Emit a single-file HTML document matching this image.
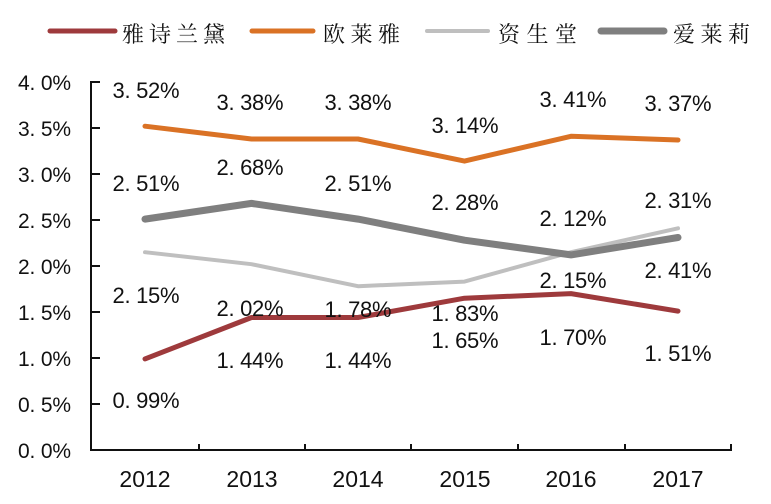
<!DOCTYPE html>
<html><head><meta charset="utf-8"><style>
html,body{margin:0;padding:0;background:#fff;}
svg{display:block;}
text{font-family:"Liberation Sans","Noto Sans CJK SC",sans-serif;fill:#111;}
.cj{font-family:"Noto Serif CJK SC","Noto Sans CJK SC",serif;font-size:22px;}
.yl{font-size:21px;}
.xl{font-size:23px;}
.dl{font-size:22px;}
</style></head><body>
<svg width="771" height="504" viewBox="0 0 771 504" xmlns="http://www.w3.org/2000/svg">
<rect width="771" height="504" fill="#fff"/>
<!-- legend -->
<g stroke-linecap="round">
<line x1="50" y1="31" x2="115" y2="31" stroke="#9E3A3C" stroke-width="5"/>
<line x1="252" y1="31" x2="313" y2="31" stroke="#DA7225" stroke-width="5"/>
<line x1="427" y1="31" x2="488" y2="31" stroke="#BFBFBF" stroke-width="4"/>
<line x1="601" y1="31" x2="664" y2="31" stroke="#7F7F7F" stroke-width="7"/>
</g>
<text class="cj" x="122" y="42" textLength="103" lengthAdjust="spacing">雅诗兰黛</text>
<text class="cj" x="323" y="42" textLength="77" lengthAdjust="spacing">欧莱雅</text>
<text class="cj" x="498" y="42" textLength="79" lengthAdjust="spacing">资生堂</text>
<text class="cj" x="673" y="42" textLength="77" lengthAdjust="spacing">爱莱莉</text>
<!-- axes -->
<g stroke="#111" stroke-width="2" fill="none">
<line x1="91" y1="81" x2="91" y2="451"/>
<line x1="90" y1="450" x2="731" y2="450"/>
<line x1="91" y1="82" x2="100" y2="82"/>
<line x1="91" y1="128" x2="100" y2="128"/>
<line x1="91" y1="174" x2="100" y2="174"/>
<line x1="91" y1="220" x2="100" y2="220"/>
<line x1="91" y1="266" x2="100" y2="266"/>
<line x1="91" y1="312" x2="100" y2="312"/>
<line x1="91" y1="358" x2="100" y2="358"/>
<line x1="91" y1="404" x2="100" y2="404"/>
<line x1="199" y1="444" x2="199" y2="450"/>
<line x1="305" y1="444" x2="305" y2="450"/>
<line x1="411" y1="444" x2="411" y2="450"/>
<line x1="518" y1="444" x2="518" y2="450"/>
<line x1="625" y1="444" x2="625" y2="450"/>
<line x1="731" y1="444" x2="731" y2="451"/>
</g>
<!-- y labels -->
<g class="yl" text-anchor="end">
<text class="yl" x="71" y="90" textLength="53" lengthAdjust="spacing">4. 0%</text>
<text class="yl" x="71" y="136" textLength="53" lengthAdjust="spacing">3. 5%</text>
<text class="yl" x="71" y="182" textLength="53" lengthAdjust="spacing">3. 0%</text>
<text class="yl" x="71" y="228" textLength="53" lengthAdjust="spacing">2. 5%</text>
<text class="yl" x="71" y="274" textLength="53" lengthAdjust="spacing">2. 0%</text>
<text class="yl" x="71" y="320" textLength="53" lengthAdjust="spacing">1. 5%</text>
<text class="yl" x="71" y="366" textLength="53" lengthAdjust="spacing">1. 0%</text>
<text class="yl" x="71" y="412" textLength="53" lengthAdjust="spacing">0. 5%</text>
<text class="yl" x="71" y="458" textLength="53" lengthAdjust="spacing">0. 0%</text>
</g>
<!-- x labels -->
<g text-anchor="middle">
<text class="xl" x="145" y="487">2012</text>
<text class="xl" x="252" y="487">2013</text>
<text class="xl" x="358" y="487">2014</text>
<text class="xl" x="465" y="487">2015</text>
<text class="xl" x="571" y="487">2016</text>
<text class="xl" x="678" y="487">2017</text>
</g>
<!-- series -->
<g fill="none" stroke-linejoin="round" stroke-linecap="round">
<polyline stroke="#9E3A3C" stroke-width="5" points="145,358.9 251.5,317.5 358,317.5 464.5,298.2 571,293.6 678,311.1"/>
<polyline stroke="#DA7225" stroke-width="5" points="145,126.2 251.5,139 358,139 464.5,161.1 571,136.3 678,140"/>
<polyline stroke="#BFBFBF" stroke-width="4" points="145,252.2 251.5,264.2 358,286.2 464.5,281.6 571,252.2 678,228.3"/>
<polyline stroke="#7F7F7F" stroke-width="7" points="145,219.1 251.5,203.4 358,219.1 464.5,240.2 571,254.9 678,237.5"/>
</g>
<!-- data labels -->
<g text-anchor="middle">
<text class="dl" x="146" y="98" textLength="67" lengthAdjust="spacing">3. 52%</text>
<text class="dl" x="250" y="110" textLength="67" lengthAdjust="spacing">3. 38%</text>
<text class="dl" x="358" y="110" textLength="67" lengthAdjust="spacing">3. 38%</text>
<text class="dl" x="465" y="133" textLength="67" lengthAdjust="spacing">3. 14%</text>
<text class="dl" x="573" y="107" textLength="67" lengthAdjust="spacing">3. 41%</text>
<text class="dl" x="678" y="111" textLength="67" lengthAdjust="spacing">3. 37%</text>
<text class="dl" x="146" y="191" textLength="67" lengthAdjust="spacing">2. 51%</text>
<text class="dl" x="250" y="175" textLength="67" lengthAdjust="spacing">2. 68%</text>
<text class="dl" x="358" y="191" textLength="67" lengthAdjust="spacing">2. 51%</text>
<text class="dl" x="465" y="210" textLength="67" lengthAdjust="spacing">2. 28%</text>
<text class="dl" x="573" y="226" textLength="67" lengthAdjust="spacing">2. 12%</text>
<text class="dl" x="678" y="208" textLength="67" lengthAdjust="spacing">2. 31%</text>
<text class="dl" x="146" y="303" textLength="67" lengthAdjust="spacing">2. 15%</text>
<text class="dl" x="250" y="316" textLength="67" lengthAdjust="spacing">2. 02%</text>
<text class="dl" x="358" y="317" textLength="67" lengthAdjust="spacing">1. 78%</text>
<text class="dl" x="465" y="321" textLength="67" lengthAdjust="spacing">1. 83%</text>
<text class="dl" x="573" y="288" textLength="67" lengthAdjust="spacing">2. 15%</text>
<text class="dl" x="678" y="278" textLength="67" lengthAdjust="spacing">2. 41%</text>
<text class="dl" x="146" y="408" textLength="67" lengthAdjust="spacing">0. 99%</text>
<text class="dl" x="250" y="368" textLength="67" lengthAdjust="spacing">1. 44%</text>
<text class="dl" x="358" y="368" textLength="67" lengthAdjust="spacing">1. 44%</text>
<text class="dl" x="465" y="348" textLength="67" lengthAdjust="spacing">1. 65%</text>
<text class="dl" x="573" y="345" textLength="67" lengthAdjust="spacing">1. 70%</text>
<text class="dl" x="678" y="361" textLength="67" lengthAdjust="spacing">1. 51%</text>
</g>
</svg>
</body></html>
